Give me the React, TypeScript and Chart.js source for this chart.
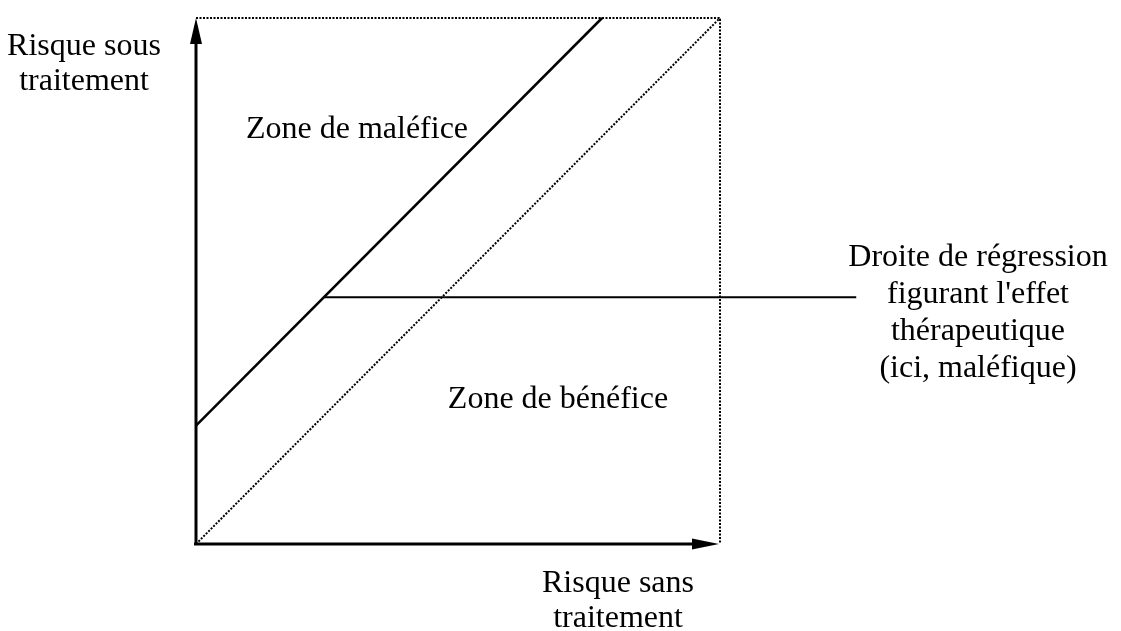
import React, { useEffect, useRef } from "react";
import { Chart, registerables } from "chart.js";

Chart.register(...registerables);

// ---- data (unit square: risk without treatment on x, risk under treatment on y) ----
const boxX = [0, 1, 1];
const boxY = [1, 1, 0];
const identityX = [0, 1];
const identityY = [0, 1];
const effectX = [0, 0.775];
const effectY = [0.225, 1];
const regressionX = [0.245, 1.26];
const regressionY = [0.469, 0.469];
const axisEnd = [0, 1];

const yTitleLines = ["Risque sous", "traitement"];
const xTitleLines = ["Risque sans", "traitement"];
const harmLines = ["Zone de maléfice"];
const benefitLines = ["Zone de bénéfice"];
const regressionLines = [
  "Droite de régression",
  "figurant l'effet",
  "thérapeutique",
  "(ici, maléfique)",
];

const pts = (xs: number[], ys: number[]) => xs.map((x, i) => ({ x, y: ys[i] }));

const FONT = '32px "Liberation Serif", "Times New Roman", serif';

function drawLines(ctx: CanvasRenderingContext2D, lines: string[], cx: number, baseline: number, gap: number) {
  lines.forEach((t, i) => ctx.fillText(t, cx, baseline + i * gap));
}

const overlay = {
  id: "overlay",
  afterDatasetsDraw(chart: any) {
    const { ctx, scales } = chart;
    const xs = scales.x;
    const ys = scales.y;
    const ox = xs.getPixelForValue(axisEnd[0]);
    const oy = ys.getPixelForValue(axisEnd[0]);
    const xe = xs.getPixelForValue(axisEnd[1]);
    const ye = ys.getPixelForValue(axisEnd[1]);
    ctx.save();
    ctx.strokeStyle = "#000";
    ctx.fillStyle = "#000";
    ctx.lineWidth = 3;
    // x axis
    ctx.beginPath();
    ctx.moveTo(ox - 2, oy);
    ctx.lineTo(xe - 20, oy);
    ctx.stroke();
    ctx.beginPath();
    ctx.moveTo(xe - 1, oy);
    ctx.lineTo(xe - 28, oy - 5.5);
    ctx.lineTo(xe - 28, oy + 5.5);
    ctx.closePath();
    ctx.fill();
    // y axis
    ctx.beginPath();
    ctx.moveTo(ox, oy + 1);
    ctx.lineTo(ox, ye + 20);
    ctx.stroke();
    ctx.beginPath();
    ctx.moveTo(ox, ye);
    ctx.lineTo(ox - 6, ye + 26);
    ctx.lineTo(ox + 6, ye + 26);
    ctx.closePath();
    ctx.fill();

    // texts
    ctx.font = FONT;
    ctx.textAlign = "center";
    ctx.textBaseline = "alphabetic";
    drawLines(ctx, yTitleLines, 84, 55, 35);
    drawLines(ctx, xTitleLines, 618, 592, 35);
    drawLines(ctx, harmLines, 357, 138, 37);
    drawLines(ctx, benefitLines, 558, 408, 37);
    drawLines(ctx, regressionLines, 978, 266, 37);
    ctx.restore();
  },
};

export default function App() {
  const ref = useRef<HTMLCanvasElement | null>(null);
  useEffect(() => {
    if (!ref.current) return;
    const dotted = {
      showLine: true,
      borderColor: "#000",
      borderWidth: 2,
      borderDash: [2, 1.5],
      pointRadius: 0,
      clip: false as any,
    };
    const chart = new Chart(ref.current, {
      type: "scatter",
      data: {
        datasets: [
          { ...dotted, data: pts(boxX, boxY) },
          { ...dotted, data: pts(identityX, identityY) },
          {
            showLine: true,
            borderColor: "#000",
            borderWidth: 2.5,
            pointRadius: 0,
            clip: false as any,
            data: pts(effectX, effectY),
          },
          {
            showLine: true,
            borderColor: "#000",
            borderWidth: 2,
            pointRadius: 0,
            clip: false as any,
            data: pts(regressionX, regressionY),
          },
        ],
      },
      options: {
        animation: false,
        responsive: false,
        layout: { padding: { left: 196, top: 18, right: 139, bottom: 87 } },
        plugins: { legend: { display: false }, tooltip: { enabled: false } },
        scales: {
          x: { type: "linear", min: 0, max: 1.5, display: false },
          y: { type: "linear", min: 0, max: 1, display: false },
        },
      },
      plugins: [overlay],
    });
    return () => chart.destroy();
  }, []);
  return (
    <div style={{ position: "absolute", left: 0, top: 0, width: 1121, height: 631, background: "#fff" }}>
      <canvas ref={ref} width={1121} height={631} style={{ display: "block" }} />
    </div>
  );
}
